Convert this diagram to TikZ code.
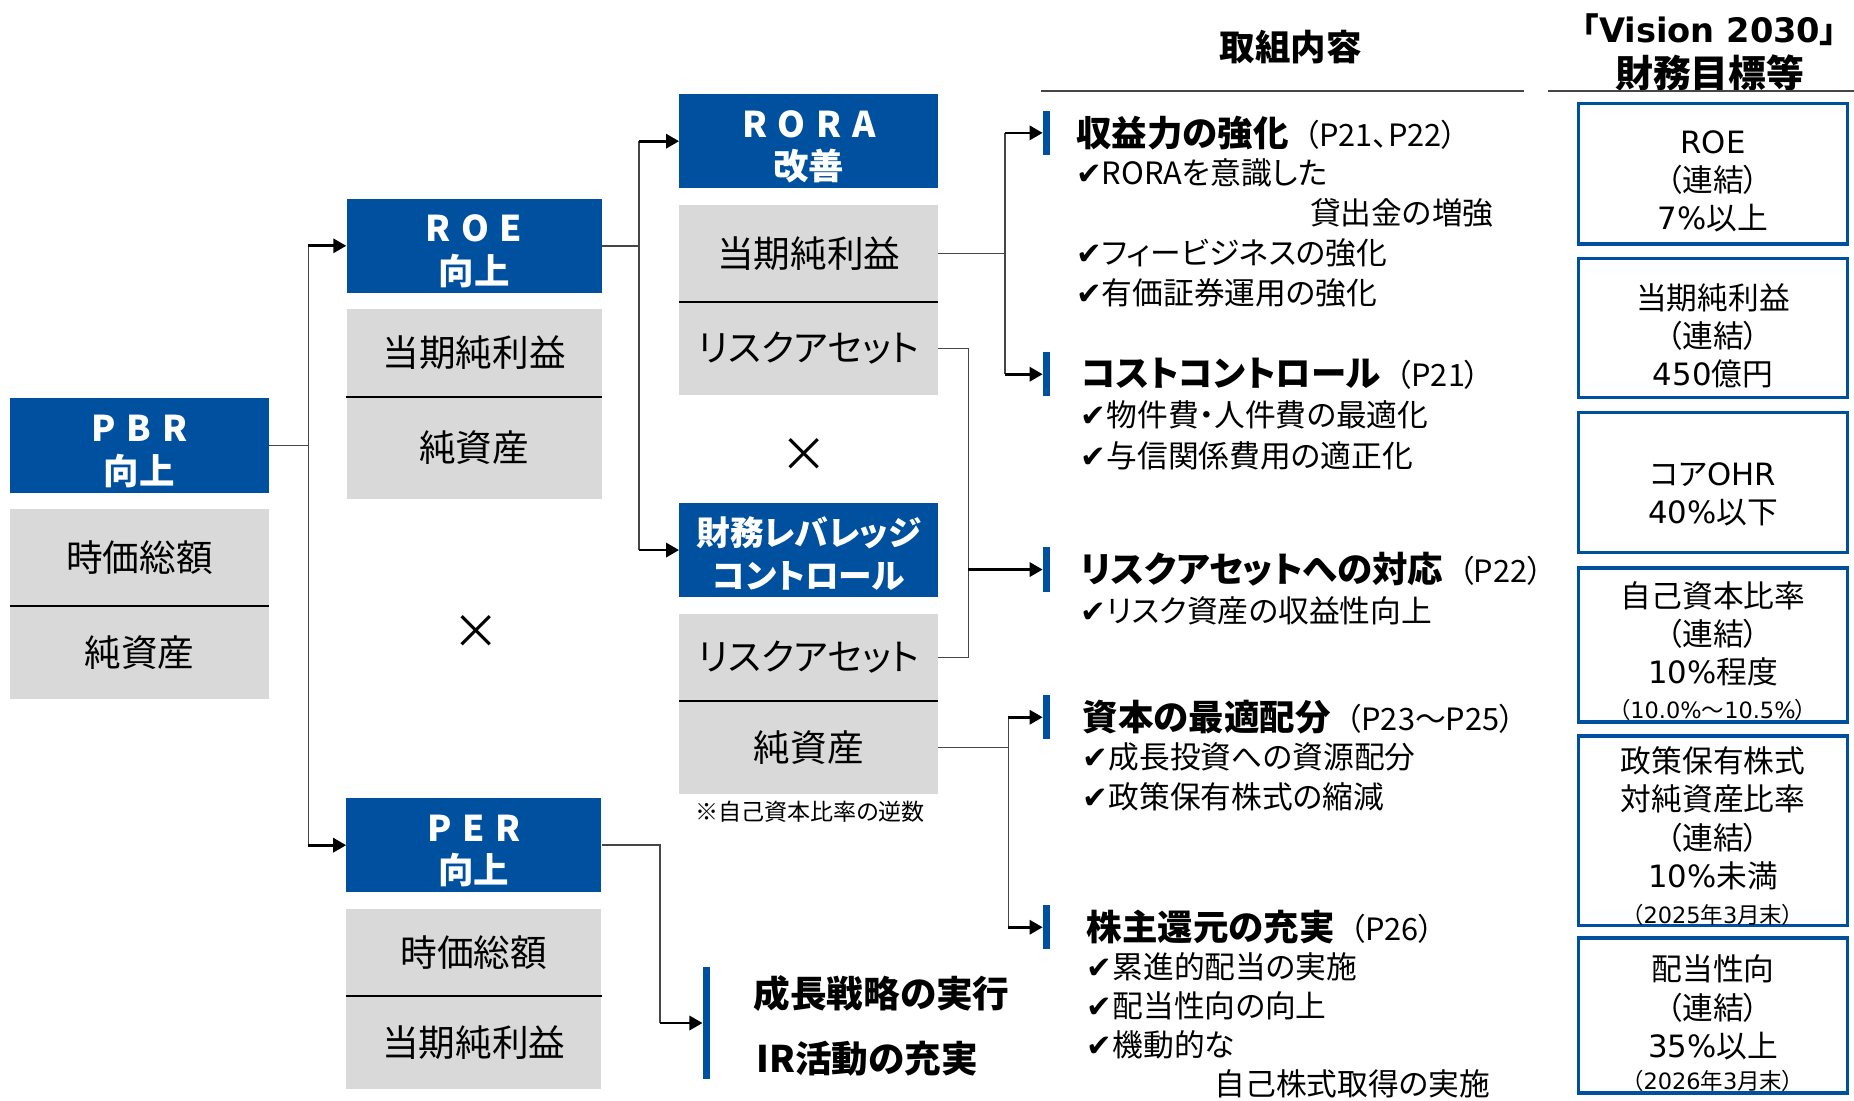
\documentclass[tikz,border=0pt]{standalone}
\usepackage{fontspec}
\setmainfont{Noto Sans CJK JP}[RawFeature=+palt]
\newfontfamily\dejavu{DejaVu Sans}
\usetikzlibrary{positioning,arrows.meta}
\definecolor{navy}{RGB}{0,80,160}
\definecolor{cellgray}{RGB}{217,217,217}
\definecolor{linegray}{RGB}{70,70,70}
\newcommand{\fs}[2]{\fontsize{#1}{#2}\selectfont}
\newcommand{\chk}{{\dejavu ✔}}
\newcommand{\pg}[1]{\hspace{13pt}{\mdseries\fs{26}{30}#1}}
\newcommand{\sm}[1]{{\fs{19}{22}#1}}
\newcommand{\vd}[1]{{\dejavu #1}}
\newcommand{\up}[1]{\rule{0pt}{#1pt}}

\begin{document}
\begin{tikzpicture}[x=1pt,y=-1pt,
  hdr/.style={fill=navy, text=white, font=\fs{30}{36}\bfseries, align=center,
    minimum width=219pt, minimum height=80pt, inner sep=0pt},
  cell/.style={fill=cellgray, font=\fs{31}{36}, minimum width=219pt, inner sep=0pt},
  goal/.style={draw=navy, line width=3pt, fill=white, align=center,
    font=\fs{26}{32.3}, minimum width=227.5pt, inner sep=0pt},
  bar/.style={fill=navy, minimum width=6pt, minimum height=37.5pt, inner sep=0pt},
  head/.style={font=\fs{30}{34}\bfseries, anchor=west, inner sep=0pt},
  item/.style={font=\fs{26}{34}, anchor=west, inner sep=0pt},
  link/.style={draw=linegray, line width=1.2pt},
  arr/.style={draw=black, line width=2.3pt, -{Triangle[length=11pt,width=12pt]}},
  sep/.style={line width=2pt},
  rule/.style={draw=linegray, line width=1.5pt}]
\useasboundingbox (0,0) rectangle (1568,931);

% PBR
\node[hdr] (pbr) at (117.9,376.9) {\up{32}P\hspace{9pt}B\hspace{9pt}R\\向上};
\node[cell, minimum height=81.4pt] (pbrA) at (117.9,471.5) {時価総額};
\node[cell, minimum height=79.2pt] (pbrB) at (117.9,551.8) {純資産};
\draw[sep] (pbrA.south west) -- (pbrA.south east);

% ROE / PER
\node[hdr, minimum width=215.7pt] (roe) at (400.9,207.9) {\up{32}R\hspace{9pt}O\hspace{9pt}E\\向上};
\node[cell, minimum width=215.7pt, minimum height=73.9pt] (roeA) at (400.9,298.6) {当期純利益};
\node[cell, minimum width=215.7pt, minimum height=86.8pt] (roeB) at (400.9,378.9) {純資産};
\draw[sep] (roeA.south west) -- (roeA.south east);
\node[font=\fs{40}{40}] (times1) at (402.3,534.8) {×};

\node[hdr, minimum width=215.7pt] (per) at (400.8,714.8) {\up{32}P\hspace{9pt}E\hspace{9pt}R\\向上};
\node[cell, minimum width=215.7pt, minimum height=73.6pt] (perA) at (400.8,805.6) {時価総額};
\node[cell, minimum width=215.7pt, minimum height=78.9pt] (perB) at (400.8,881.9) {当期純利益};
\draw[sep] (perA.south west) -- (perA.south east);

% RORA / leverage
\node[hdr] (rora) at (684,119.4) {\up{32}R\hspace{9pt}O\hspace{9pt}R\hspace{9pt}A\\改善};
\node[cell, minimum height=81.7pt] (roraA) at (684,214.3) {当期純利益};
\node[cell, minimum height=79pt] (roraB) at (684,294.6) {リスクアセット};
\draw[sep] (roraA.south west) -- (roraA.south east);
\node[font=\fs{40}{40}] (times2) at (679.8,384.8) {×};

\node[hdr, font=\fs{28.5}{36}\bfseries] (lev) at (684,465.2) {\up{30}財務レバレッジ\\コントロール};
\node[cell, minimum height=73.3pt] (levA) at (684,556) {リスクアセット};
\node[cell, minimum height=78.9pt] (levB) at (684,632) {純資産};
\draw[sep] (levA.south west) -- (levA.south east);
\node[font=\fs{19.5}{22}] (note) at (685,686.5) {※自己資本比率の逆数};

% bars
\node[bar] (bar1) at (885,112.4) {};
\node[bar] (bar2) at (885,316.5) {};
\node[bar] (bar3) at (885,481.7) {};
\node[bar] (bar4) at (885,606.6) {};
\node[bar] (bar5) at (885,784.2) {};
\node[bar, minimum height=95.3pt] (bar6) at (597.3,865.2) {};

% connectors
\coordinate (jA) at (260.8,376.9);
\draw[link] (pbr.east) -- (jA);
\draw[link] (jA |- roe.west) -- (jA |- per.west);
\draw[arr] (jA |- roe.west) -- (roe.west);
\draw[arr] (jA |- per.west) -- (per.west);

\coordinate (jB) at (540.5,207.9);
\draw[link] (roe.east) -- (jB);
\draw[link] (jB |- rora.west) -- (jB |- lev.west);
\draw[arr] (jB |- rora.west) -- (rora.west);
\draw[arr] (jB |- lev.west) -- (lev.west);

\coordinate (jC) at (850,214.3);
\draw[link] (roraA.east) -- (jC);
\draw[link] (jC |- bar1.west) -- (jC |- bar2.west);
\draw[arr] (jC |- bar1.west) -- (bar1.west);
\draw[arr] (jC |- bar2.west) -- (bar2.west);

\coordinate (jD) at (819,481.7);
\draw[link] (roraB.east) -| (jD) |- (levA.east);
\draw[arr] (jD) -- (bar3.west);

\coordinate (jE) at (852.8,632);
\draw[link] (levB.east) -- (jE);
\draw[link] (jE |- bar4.west) -- (jE |- bar5.west);
\draw[arr] (jE |- bar4.west) -- (bar4.west);
\draw[arr] (jE |- bar5.west) -- (bar5.west);

\coordinate (jF) at (558.3,865.2);
\draw[link] (per.east) -| (jF);
\draw[arr] (jF) -- (bar6.west);

% PER measures
\node[head, font=\fs{31}{34}\bfseries] (grow) at (637,840.1) {成長戦略の実行};
\node[head, font=\fs{31}{34}\bfseries] (ir) at (639.6,895.1) {IR活動の充実};

% measures
\node[head, right=21.7pt of bar1] (h1) {収益力の強化\pg{（P21、P22）}};
\foreach \t [count=\i] in {{\chk RORAを意識した}, {\hspace*{198pt}貸出金の増強},
    {\chk フィービジネスの強化}, {\chk 有価証券運用の強化}}
  \node[item] (s1-\i) at ([yshift=-\i*33.8pt]h1.west) {\t};

\node[head, right=25.8pt of bar2] (h2) {コストコントロール\pg{（P21）}};
\foreach \t [count=\i] in {{\chk 物件費・人件費の最適化}, {\chk 与信関係費用の適正化}}
  \node[item] (s2-\i) at ([yshift=-\i*34.5pt]h2.west) {\t};

\node[head, right=25.8pt of bar3] (h3) {リスクアセットへの対応\pg{（P22）}};
\node[item] (s3-1) at ([yshift=-34.5pt]h3.west) {\chk リスク資産の収益性向上};

\node[head, right=27.5pt of bar4] (h4) {資本の最適配分\pg{（P23～P25）}};
\foreach \t [count=\i] in {{\chk 成長投資への資源配分}, {\chk 政策保有株式の縮減}}
  \node[item] (s4-\i) at ([yshift=-\i*33.8pt]h4.west) {\t};

\node[head, right=30.8pt of bar5] (h5) {株主還元の充実\pg{（P26）}};
\foreach \t [count=\i] in {{\chk 累進的配当の実施}, {\chk 配当性向の向上},
    {\chk 機動的な}, {\hspace*{108pt}自己株式取得の実施}}
  \node[item] (s5-\i) at ([yshift=-\i*33.1pt]h5.west) {\t};

% column heads
\node[font=\fs{30}{36}\bfseries] (hdwork) at (1091.6,39.5) {取組内容};
\draw[rule] (880.4,76.7) -- (1288.9,76.7);
\node[font=\fs{28.5}{38}\bfseries, align=center] (hdgoal) at (1446,44.4)
  {「\vd{Vision 2030}」\\\fs{32}{38}財務目標等};
\draw[rule] (1309.4,77) -- (1568,77);

% targets
\node[goal, minimum height=118.8pt] (g1) at (1448.75,146.9)
  {\up{32}\vd{ROE}\\（連結）\\\vd{7\%}以上};
\node[goal, minimum height=117.7pt] (g2) at (1448.75,277.35)
  {\up{35}当期純利益\\（連結）\\\vd{450}億円};
\node[goal, minimum height=118.4pt] (g3) at (1448.75,408)
  {\up{40}コア\vd{OHR}\\\vd{40\%}以下};
\node[goal, minimum height=130.3pt] (g4) at (1448.75,545.65)
  {\up{32}自己資本比率\\（連結）\\\vd{10\%}程度\\[-3pt]\sm{（\vd{10.0\%}～\vd{10.5\%}）}};
\node[goal, minimum height=156.9pt] (g5) at (1448.75,702.55)
  {\up{31}政策保有株式\\対純資産比率\\（連結）\\\vd{10\%}未満\\[-2pt]\sm{（\vd{2025}年\vd{3}月末）}};
\node[goal, minimum height=131pt] (g6) at (1448.75,859)
  {\up{35}配当性向\\（連結）\\\vd{35\%}以上\\[-5pt]\sm{（\vd{2026}年\vd{3}月末）}};
\end{tikzpicture}
\end{document}
